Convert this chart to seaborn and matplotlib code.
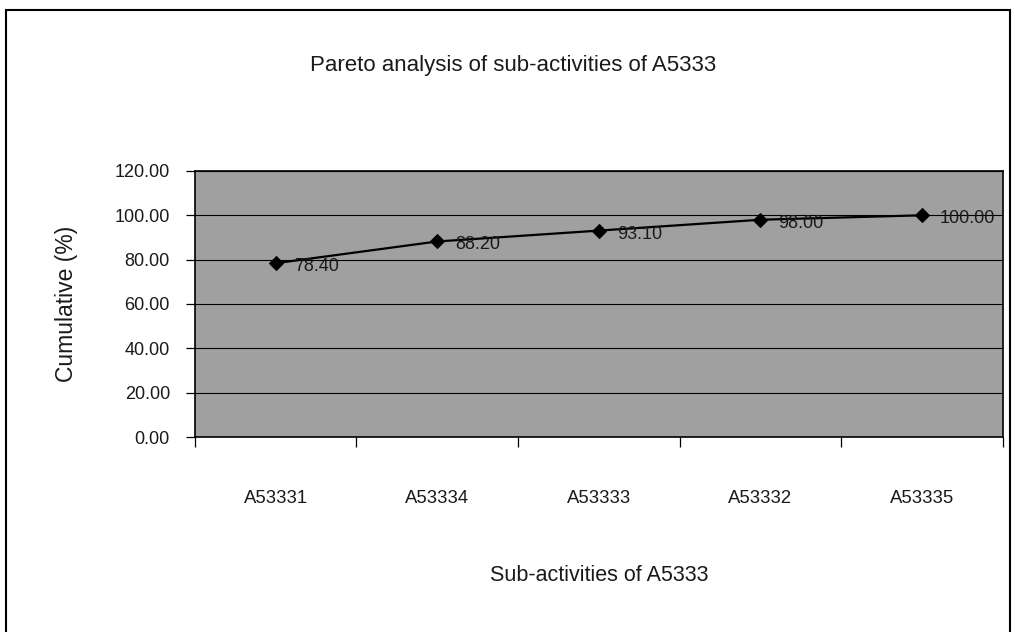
import matplotlib
matplotlib.use("Agg")
import matplotlib.pyplot as plt
import seaborn as sns
import pandas as pd
import numpy as np
from matplotlib.ticker import FixedLocator, NullFormatter
from matplotlib.patches import Rectangle

categories = ["A53331", "A53334", "A53333", "A53332", "A53335"]
cumulative = [78.40, 88.20, 93.10, 98.00, 100.00]
y_ticks = [0, 20, 40, 60, 80, 100, 120]

sns.set_theme(style="white")
plt.rcParams['font.family'] = ['Liberation Sans', 'DejaVu Sans']

df = pd.DataFrame({"cat": categories, "val": cumulative})

fig = plt.figure(figsize=(10.15, 6.32), dpi=100)
ax = fig.add_axes([0.192, 0.3085, 0.796, 0.421])
ax.set_facecolor('#a0a0a0')

sns.lineplot(data=df, x="cat", y="val", ax=ax, sort=False, color='black',
             marker='D', markersize=7.5, linewidth=1.6, markeredgecolor='black')

for i, v in enumerate(cumulative):
    ax.annotate(f"{v:.2f}", (i, v), xytext=(13, -2.5), textcoords='offset points',
                ha='left', va='center', fontsize=13, color='#1a1a1a')

ax.set_ylim(0, 120)
ax.set_xlim(-0.5, len(categories) - 0.5)
ax.set_yticks(y_ticks)
ax.set_yticklabels([f"{t:.2f}" for t in y_ticks], fontsize=13, color='#1a1a1a')

ax.yaxis.grid(True, color='black', linewidth=0.8)
ax.xaxis.grid(False)
ax.set_axisbelow(True)

ax.set_xticks(range(len(categories)))
ax.set_xticklabels(categories, fontsize=13.3, color='#1a1a1a')
ax.tick_params(axis='x', which='major', length=0, pad=38)
ax.xaxis.set_minor_locator(FixedLocator(np.arange(-0.5, len(categories), 1.0)))
ax.xaxis.set_minor_formatter(NullFormatter())
ax.tick_params(axis='x', which='minor', length=7, width=0.9, color='black', bottom=True)
ax.tick_params(axis='y', length=6.5, width=0.9, color='black', left=True, pad=11.5)

for s in ax.spines.values():
    s.set_color('black')
    s.set_linewidth(1.2)

ax.set_xlabel("Sub-activities of A5333", fontsize=15.5, labelpad=42, color='#1a1a1a')
ax.set_ylabel("Cumulative (%)", fontsize=16.5, labelpad=26, color='#1a1a1a')
fig.text(0.5054, 0.896, "Pareto analysis of sub-activities of A5333", ha='center',
         va='center', fontsize=16, color='#1a1a1a')

fig.patches.append(Rectangle((0.006, -0.01), 0.989, 0.994, transform=fig.transFigure,
                             fill=False, edgecolor='black', linewidth=1.5))

fig.savefig("out.png", dpi=100)
